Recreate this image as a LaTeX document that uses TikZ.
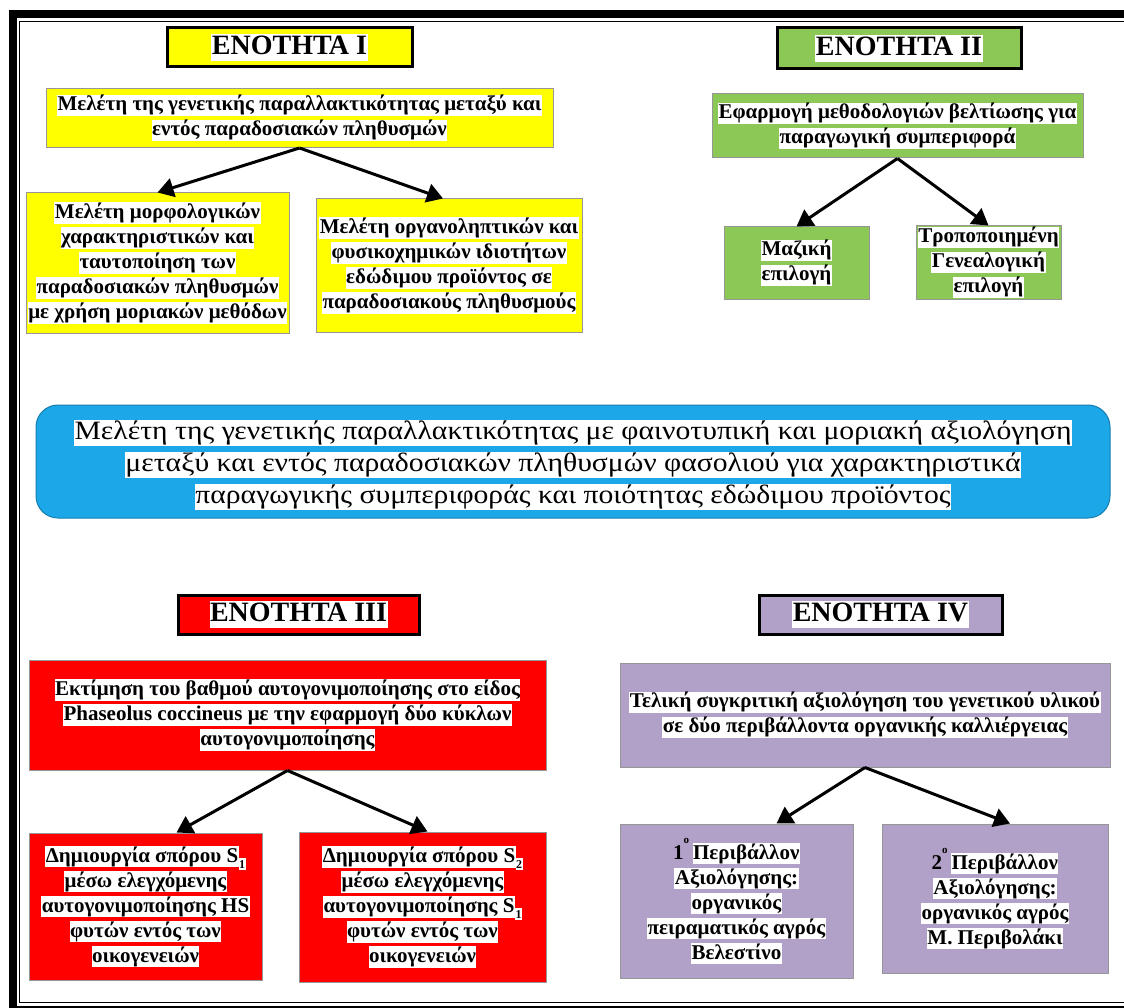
\documentclass[tikz,border=0pt]{standalone}
\usepackage{fontspec}
\setmainfont{Liberation Serif}
\newfontfamily\aimfont[FakeStretch=1.12]{Liberation Serif}
\usetikzlibrary{arrows.meta}

\definecolor{secyellow}{RGB}{255,255,0}
\definecolor{secgreen}{RGB}{140,200,85}
\definecolor{secred}{RGB}{255,0,0}
\definecolor{secpurple}{RGB}{177,160,199}
\definecolor{secblue}{RGB}{28,168,232}
\definecolor{boxedge}{RGB}{150,150,150}

% white text highlight behind each line
\newcommand{\hlt}[1]{{\setlength{\fboxsep}{0.5pt}\colorbox{white}{\rule[-0.22em]{0pt}{0.94em}#1}}}
% highlighted subscript index
\newcommand{\subidx}[1]{\raisebox{-6pt}{\setlength{\fboxsep}{0.5pt}\colorbox{white}{\fontsize{12}{12}\selectfont\rule[-1pt]{0pt}{11pt}#1}}}
% raised ordinal mark
\newcommand{\ordmark}{\raisebox{16pt}{\fontsize{11}{11}\selectfont ο}}

\tikzset{
  x=1pt, y=-1pt,
  header/.style={draw=black, line width=3pt, inner sep=0pt,
    font=\fontsize{28}{30}\selectfont\bfseries},
  card/.style={draw=boxedge, line width=1pt, inner sep=0pt, align=center,
    font=\fontsize{21}{25}\selectfont\bfseries},
  flow/.style={line width=3pt, -{Triangle[length=16pt,width=19pt]}},
}

\begin{document}
\begin{tikzpicture}
\useasboundingbox (0,0) rectangle (1124,1008);
\clip (0,0) rectangle (1124,1008);
\fill[white] (0,0) rectangle (1124,1008);

% double frame
\draw[line width=8pt] (12.5,14.5) rectangle (1140,1010);
\draw[line width=1.5pt] (19.5,21.5) rectangle (1135,1002.5);

% ---- section I
\node[header, fill=secyellow, minimum width=245pt, minimum height=39pt] (h1) at (289.5,47.5) {\hlt{ΕΝΟΤΗΤΑ I}};
\node[card, fill=secyellow, minimum width=507pt, minimum height=59pt] (y1) at (299.5,118)
  {\hlt{Μελέτη της γενετικής παραλλακτικότητας μεταξύ και}\\\hlt{εντός παραδοσιακών πληθυσμών}};
\node[card, fill=secyellow, minimum width=263pt, minimum height=140pt] (y2) at (157.5,263)
  {\hlt{Μελέτη μορφολογικών}\\\hlt{χαρακτηριστικών και}\\\hlt{ταυτοποίηση των}\\\hlt{παραδοσιακών πληθυσμών}\\\hlt{με χρήση μοριακών μεθόδων}};
\node[card, fill=secyellow, minimum width=266pt, minimum height=133pt] (y3) at (449,265.5)
  {\hlt{Μελέτη οργανοληπτικών και}\\\hlt{φυσικοχημικών ιδιοτήτων}\\\hlt{εδώδιμου προϊόντος σε}\\\hlt{παραδοσιακούς πληθυσμούς}};
\draw[flow] (y1.south) -- (y2.north);
\draw[flow] (y1.south) -- ([xshift=-6pt]y3.north);

% ---- section II
\node[header, fill=secgreen, minimum width=244pt, minimum height=41pt] (h2) at (899,48.5) {\hlt{ΕΝΟΤΗΤΑ II}};
\node[card, fill=secgreen, minimum width=371pt, minimum height=64pt] (g1) at (897.5,126)
  {\hlt{Εφαρμογή μεθοδολογιών βελτίωσης για}\\\hlt{παραγωγική συμπεριφορά}};
\node[card, fill=secgreen, minimum width=145pt, minimum height=72pt] (g2) at (796.5,263)
  {\hlt{Μαζική}\\\hlt{επιλογή}};
\node[card, fill=secgreen, minimum width=145pt, minimum height=73pt] (g3) at (988.5,262.5)
  {\hlt{Τροποποιημένη}\\\hlt{Γενεαλογική}\\\hlt{επιλογή}};
\draw[flow] (g1.south) -- (g2.north);
\draw[flow] (g1.south) -- (g3.north);

% ---- overall aim
\node[draw=secblue!75!black, line width=1pt, fill=secblue, rounded corners=22pt,
      minimum width=1074pt, minimum height=113pt, inner sep=0pt] (aim) at (573,461.5) {};
\node[align=center, inner sep=0pt, font=\aimfont\fontsize{26.5}{32}\selectfont] (aimtext) at (573,465)
  {\hlt{Μελέτη της γενετικής παραλλακτικότητας με φαινοτυπική και μοριακή αξιολόγηση}\\
   \hlt{μεταξύ και εντός παραδοσιακών πληθυσμών φασολιού για χαρακτηριστικά}\\
   \hlt{παραγωγικής συμπεριφοράς και ποιότητας εδώδιμου προϊόντος}};

% ---- section III
\node[header, fill=secred, minimum width=241pt, minimum height=39pt] (h3) at (298.5,614.5) {\hlt{ΕΝΟΤΗΤΑ III}};
\node[card, fill=secred, minimum width=517pt, minimum height=110pt] (r1) at (287.5,715)
  {\hlt{Εκτίμηση του βαθμού αυτογονιμοποίησης στο είδος}\\\hlt{Phaseolus coccineus με την εφαρμογή δύο κύκλων}\\\hlt{αυτογονιμοποίησης}};
\node[card, fill=secred, minimum width=233pt, minimum height=147pt] (r2) at (145.5,906.5)
  {\hlt{Δημιουργία σπόρου S}\subidx{1}\\\hlt{μέσω ελεγχόμενης}\\\hlt{αυτογονιμοποίησης HS}\\\hlt{φυτών εντός των}\\\hlt{οικογενειών}};
\node[card, fill=secred, minimum width=247pt, minimum height=150pt] (r3) at (422.5,907)
  {\hlt{Δημιουργία σπόρου S}\subidx{2}\\\hlt{μέσω ελεγχόμενης}\\\hlt{αυτογονιμοποίησης S}\subidx{1}\\\hlt{φυτών εντός των}\\\hlt{οικογενειών}};
\draw[flow] (r1.south) -- ([xshift=31pt]r2.north);
\draw[flow] (r1.south) -- ([xshift=5pt]r3.north);

% ---- section IV
\node[header, fill=secpurple, minimum width=243pt, minimum height=39pt] (h4) at (880.5,614.5) {\hlt{ΕΝΟΤΗΤΑ IV}};
\node[card, fill=secpurple, minimum width=490pt, minimum height=104pt] (p1) at (865,715)
  {\hlt{Τελική συγκριτική αξιολόγηση του γενετικού υλικού}\\\hlt{σε δύο περιβάλλοντα οργανικής καλλιέργειας}};
\node[card, fill=secpurple, minimum width=233pt, minimum height=154pt] (p2) at (736.5,901)
  {1\ordmark\,\hlt{Περιβάλλον}\\\hlt{Αξιολόγησης:}\\\hlt{οργανικός}\\\hlt{πειραματικός αγρός}\\\hlt{Βελεστίνο}};
\node[card, fill=secpurple, minimum width=226pt, minimum height=149pt] (p3) at (995,898.5)
  {2\ordmark\,\hlt{Περιβάλλον}\\\hlt{Αξιολόγησης:}\\\hlt{οργανικός αγρός}\\\hlt{Μ. Περιβολάκι}};
\draw[flow] (p1.south) -- ([xshift=40pt]p2.north);
\draw[flow] (p1.south) -- ([xshift=15pt]p3.north);
\end{tikzpicture}
\end{document}
